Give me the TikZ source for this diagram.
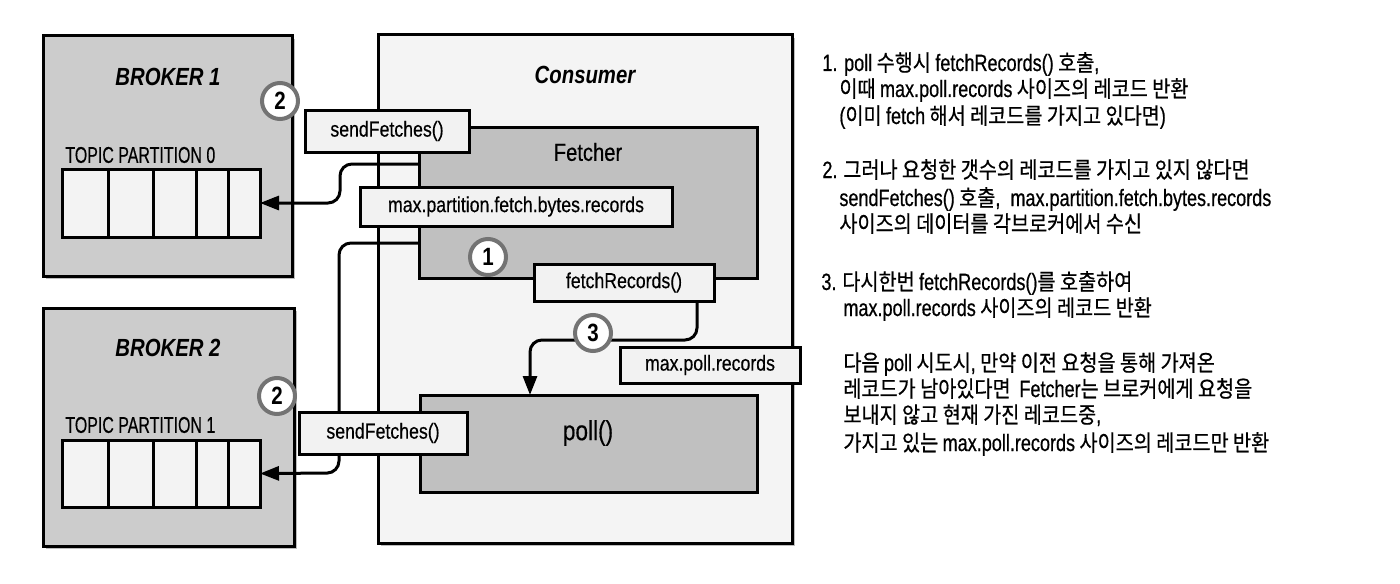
\documentclass[tikz,border=0pt]{standalone}
\usepackage{fontspec}
\setmainfont{Liberation Sans}[FakeStretch=0.82, UprightFeatures={FakeBold=0.4}]
\newfontfamily\capsfont{Liberation Sans}[FakeStretch=0.7, FakeBold=0.4]
\newfontfamily\kr{Noto Sans CJK KR}[FakeStretch=0.87, FakeBold=0.6]
\newfontfamily\krlatin{Liberation Sans}[FakeStretch=0.765, FakeBold=0.6]
\newcommand\ltn[1]{{\krlatin\fontsize{11.8}{12}\selectfont #1}}
\usetikzlibrary{fit,arrows.meta,shadows}
\definecolor{brokerfill}{HTML}{CCCCCC}
\definecolor{consfill}{HTML}{F4F4F4}
\definecolor{innerfill}{HTML}{C0C0C0}
\definecolor{labelfill}{HTML}{F2F2F2}
\definecolor{cellfill}{HTML}{F3F3F3}
\definecolor{shadowgray}{HTML}{BDBDBD}
\definecolor{ringgray}{HTML}{737373}
\tikzset{
  frame/.style={draw=black, line width=1.5pt, inner sep=0pt, outer sep=0pt},
  shadowed/.style={drop shadow={shadow xshift=1.6pt, shadow yshift=-1.6pt, fill=shadowgray, opacity=1}},
  brokerbox/.style={frame, fill=brokerfill, shadowed},
  consbox/.style={frame, fill=consfill, shadowed},
  innerbox/.style={frame, fill=innerfill},
  cellbox/.style={frame, fill=cellfill},
  labelbox/.style={frame, fill=labelfill},
  lbl/.style={font=\fontsize{10.8}{12}\selectfont},
  title/.style={inner sep=0pt, font=\bfseries\itshape\fontsize{12.4}{14}\selectfont},
  plain/.style={inner sep=0pt},
  captext/.style={inner sep=0pt, anchor=west, font=\capsfont\fontsize{11.4}{13}\selectfont},
  numcirc/.style={circle, draw=ringgray, line width=2pt, fill=white, minimum size=18pt, inner sep=0pt, font=\bfseries\fontsize{12.5}{13}\selectfont},
  conn/.style={draw=black, line width=1.5pt, rounded corners=6pt},
  tip/.style={-{Triangle[length=9.5pt,width=7pt]}},
  krtext/.style={anchor=base west, inner sep=0pt, font=\kr\fontsize{11.3}{12}\selectfont}
}
\begin{document}
\begin{tikzpicture}[x=0.5pt,y=-0.5pt]
\useasboundingbox (0,0) rectangle (1400,583);
% main boxes
\node[consbox, fit={(378,35) (792,543)}] (consumer) {};
\node[brokerbox, fit={(43,36) (292,276)}] (broker1) {};
\node[brokerbox, fit={(43,308) (294,546)}] (broker2) {};
\node[innerbox, fit={(419,127) (757,278)}] (fetcher) {};
\node[innerbox, fit={(420,395) (757,492)}] (poll) {};
% titles
\node[title] (t1) at (168,77) {BROKER 1};
\node[title] (t2) at (168,348) {BROKER 2};
\node[title] (tc) at (585,75) {Consumer};
\node[plain, font=\fontsize{12.3}{14}\selectfont] (tf) at (588,152) {Fetcher};
\node[plain, font=\fontsize{13.8}{15}\selectfont] (tp) at (588,433) {poll()};
\node[captext] (tp0) at (65,155) {TOPIC PARTITION 0};
\node[captext] (tp1) at (65,425) {TOPIC PARTITION 1};
% partitions
\foreach \a/\b [count=\i] in {62/108,108/153,153/196,196/228,228/260}{
  \node[cellbox, fit={(\a,169) (\b,237)}] (pa\i) {};
  \node[cellbox, fit={(\a,440) (\b,507)}] (pb\i) {};
}
% connectors
\draw[conn, tip] ([yshift=19.25pt]fetcher.west) -- (340,164) -- (340,203) -- (pa5.east);
\draw[conn, tip] ([yshift=-20.25pt]fetcher.west) -- (339,243) -- (339,473) -- (pb5.east);
% label boxes
\node[labelbox, fit={(305,110) (469,152)}, label={[lbl]center:sendFetches()}] (sf1) {};
\node[labelbox, fit={(299,412) (467,454)}, label={[lbl]center:sendFetches()}] (sf2) {};
\node[labelbox, fit={(360,187) (672,226)}, label={[lbl]center:max.partition.fetch.bytes.records}] (mpf) {};
\node[labelbox, fit={(534,264) (714,301)}, label={[lbl]center:fetchRecords()}] (fr) {};
\node[labelbox, fit={(620,347) (800,383)}, label={[lbl]center:max.poll.records}] (mpr) {};
\draw[conn, tip] ([xshift=36.5pt]fr.south) -- (697,340) -- (530,340) -- ([xshift=-29.25pt]poll.north);
% step circles
\node[numcirc] (n2a) at (280,101) {2};
\node[numcirc] (n2b) at (277,396) {2};
\node[numcirc] (n1) at (488,257) {1};
\node[numcirc] (n3) at (593,333) {3};
% right-hand text
\node[krtext] (l1) at (822,71) {\ltn{1. poll} 수행시 \ltn{fetchRecords()} 호출\ltn{,}};
\node[krtext] (l2) at (839,97) {이때 \ltn{max.poll.records} 사이즈의 레코드 반환};
\node[krtext] (l3) at (839,124) {\ltn{(}이미 \ltn{fetch} 해서 레코드를 가지고 있다면\ltn{)}};
\node[krtext] (l4) at (822,178) {\ltn{2.} 그러나 요청한 갯수의 레코드를 가지고 있지 않다면};
\node[krtext] (l5) at (839,206) {\ltn{sendFetches()} 호출\ltn{,\ \ max.partition.fetch.bytes.records}};
\node[krtext] (l6) at (839,232) {사이즈의 데이터를 각브로커에서 수신};
\node[krtext] (l7) at (821,290) {\ltn{3.} 다시한번 \ltn{fetchRecords()}를 호출하여};
\node[krtext] (l8) at (843,316) {\ltn{max.poll.records} 사이즈의 레코드 반환};
\node[krtext] (l9) at (843,371) {다음 \ltn{poll} 시도시\ltn{,} 만약 이전 요청을 통해 가져온};
\node[krtext] (l10) at (843,397) {레코드가 남아있다면\ \ \ltn{Fetcher}는 브로커에게 요청을};
\node[krtext] (l11) at (843,423) {보내지 않고 현재 가진 레코드중\ltn{,}};
\node[krtext] (l12) at (843,451) {가지고 있는 \ltn{max.poll.records} 사이즈의 레코드만 반환};
\end{tikzpicture}
\end{document}
